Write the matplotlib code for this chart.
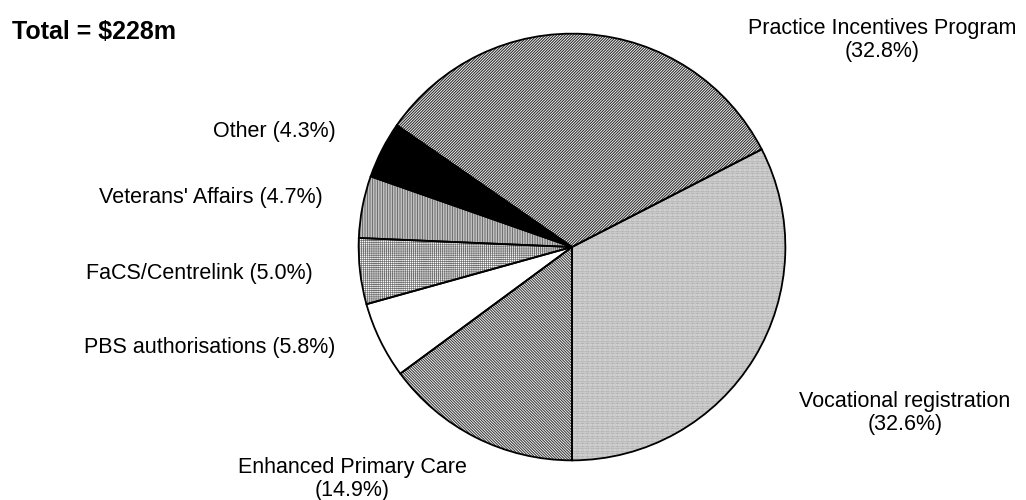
import matplotlib
matplotlib.use("Agg")
import matplotlib.pyplot as plt

plt.rcParams['font.family'] = ['Liberation Sans', 'DejaVu Sans']
plt.rcParams['hatch.linewidth'] = 0.8

# Data (counter-clockwise from the bottom)
categories = ["Vocational registration", "Practice Incentives Program", "Other",
              "Veterans' Affairs", "FaCS/Centrelink", "PBS authorisations",
              "Enhanced Primary Care"]
shares = [32.6, 32.8, 4.3, 4.7, 5.0, 5.8, 14.9]
total_label = "Total = $228m"

hatches = ['.' * 10, '/' * 12, '', '|' * 10, '+' * 8, '', '\\' * 12]
hatch_colors = ['#808080', '#303030', 'black', '#707070', '#707070', 'white', '#404040']
hatch_widths = [0.8, 0.8, 0.8, 0.8, 0.5, 0.8, 0.8]
face_colors = ['white', 'white', 'black', 'white', 'white', 'white', 'white']

W, H = 1026, 500
fig = plt.figure(figsize=(W / 100, H / 100), dpi=100)
cx, cy, r = 572, 247, 214
ax = fig.add_axes([(cx - r) / W, (H - cy - r) / H, 2 * r / W, 2 * r / H])

wedges, _ = ax.pie(shares, startangle=-90, counterclock=True,
                   colors=face_colors, wedgeprops=dict(linewidth=0))
for w, h, hc, hw in zip(wedges, hatches, hatch_colors, hatch_widths):
    w.set_edgecolor(hc)
    w.set_hatch(h)
    w.set_linewidth(0)
    try:
        w.set_hatch_linewidth(hw)
    except AttributeError:
        pass

outline, _ = ax.pie(shares, startangle=-90, counterclock=True,
                    wedgeprops=dict(fill=False, edgecolor='black', linewidth=1.3))
ax.set_aspect('equal')
ax.set_xlim(-1.003, 1.003)
ax.set_ylim(-1.003, 1.003)

fs = 15.5
def lab(x, y, s, ha='center'):
    fig.text(x / W, 1 - y / H, s, ha=ha, va='center', fontsize=fs, linespacing=1.15)

pct = {c: f"({v:.1f}%)" for c, v in zip(categories, shares)}
lab(882, 40, f"{categories[1]}\n{pct[categories[1]]}")
lab(905, 413, f"{categories[0]}\n{pct[categories[0]]}")
lab(352, 479, f"{categories[6]}\n{pct[categories[6]]}")
lab(336, 131, f"{categories[2]} {pct[categories[2]]}", ha='right')
lab(323, 198, f"{categories[3]} {pct[categories[3]]}", ha='right')
lab(313, 274, f"{categories[4]} {pct[categories[4]]}", ha='right')
lab(335, 348, f"{categories[5]} {pct[categories[5]]}", ha='right')

fig.text(12 / W, 1 - 32 / H, total_label, ha='left', va='center',
         fontsize=18, fontweight='bold')

fig.savefig("out.png", dpi=100, facecolor='white')
